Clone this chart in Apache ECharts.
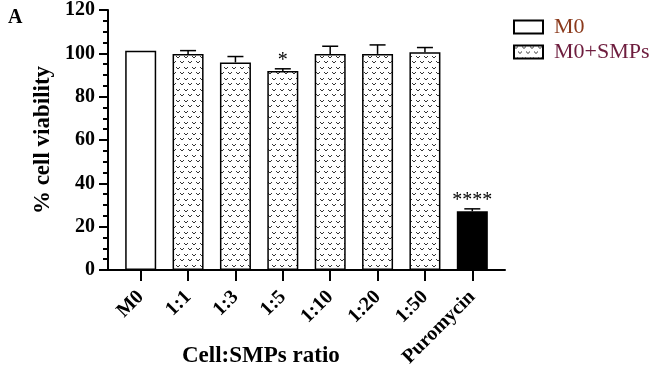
<!DOCTYPE html>
<html>
<head>
<meta charset="utf-8">
<script src="https://cdn.jsdelivr.net/npm/echarts@6/dist/echarts.min.js"></script>
<style>
  html, body { margin: 0; padding: 0; background: #fff; }
  #main { width: 658px; height: 370px; }
</style>
</head>
<body>
<div id="main"></div>
<script>
// data
var categories = ['M0', '1:1', '1:3', '1:5', '1:10', '1:20', '1:50', 'Puromycin'];
var m0Values = [100, '-', '-', '-', '-', '-', '-', '-'];
var smpValues = ['-', 98.5, 94.7, 90.8, 98.5, 98.6, 99.4, '-'];
var puroValues = ['-', '-', '-', '-', '-', '-', '-', 26.8];
var meanValues = [100, 98.5, 94.7, 90.8, 98.5, 98.6, 99.4, 26.8];
var sdValues = [0, 1.6, 2.7, 1.0, 3.6, 4.1, 2.1, 1.1];
var sigLabels = ['', '', '', '*', '', '', '', '****'];
var yTicks = [0, 20, 40, 60, 80, 100, 120];

var serif = '"Liberation Serif", "DejaVu Serif", serif';

// dotted "v" fill like the GraphPad pattern
function makePattern() {
    var c = document.createElement('canvas');
    c.width = 8; c.height = 11;
    var ctx = c.getContext('2d');
    ctx.fillStyle = '#fff';
    ctx.fillRect(0, 0, 8, 11);
    ctx.fillStyle = '#333';
    function v(x, y) {
        ctx.fillRect(x, y, 1, 1);
        ctx.fillRect(x + 3, y, 1, 1);
        ctx.fillRect(x + 1, y + 1, 2, 1);
    }
    v(0, 1);
    v(4, 6);
    return c;
}
var pattern = {image: makePattern(), repeat: 'repeat'};

var chartDom = document.getElementById('main');
var myChart = echarts.init(chartDom);
var option;

option = {
    backgroundColor: '#fff',
    animation: false,
    grid: [
        {left: 117, right: 162, top: 7, bottom: 100},
        {left: 108, right: 153, top: 7, bottom: 100}
    ],
    legend: {
        left: 508,
        top: 11,
        orient: 'vertical',
        itemWidth: 29,
        itemHeight: 13,
        itemGap: 3,
        icon: 'rect',
        textStyle: {fontFamily: serif, fontSize: 22, lineHeight: 22, padding: [0, 0, 0, 6]},
        data: [
            {name: 'M0', textStyle: {color: '#8b3a1c'}},
            {name: 'M0+SMPs', textStyle: {color: '#6e1d3e'}}
        ]
    },
    graphic: [
        {type: 'text', left: 8, top: 8,
         style: {text: 'A', font: 'bold 20px ' + serif, fill: '#000'}},
        {type: 'text', left: 182, top: 345,
         style: {text: 'Cell:SMPs ratio', font: 'bold 23px ' + serif, fill: '#000'}}
    ],
    xAxis: [
        {
            type: 'category', gridIndex: 0, data: categories,
            axisLine: {show: false},
            axisTick: {show: true, alignWithLabel: true, length: 11,
                       lineStyle: {color: '#000', width: 2}},
            axisLabel: {rotate: 45, margin: 24, color: '#000', fontFamily: serif,
                        fontWeight: 'bold', fontSize: 20, interval: 0}
        },
        {
            type: 'value', gridIndex: 1, min: 0, max: 1,
            axisLine: {show: true, lineStyle: {color: '#000', width: 2}},
            axisTick: {show: false}, axisLabel: {show: false}, splitLine: {show: false}
        }
    ],
    yAxis: [
        {
            type: 'value', gridIndex: 0, min: 0, max: 120, show: false
        },
        {
            type: 'value', gridIndex: 1, min: yTicks[0], max: yTicks[yTicks.length - 1], interval: 20,
            name: '% cell viability', nameLocation: 'middle', nameGap: 52,
            nameTextStyle: {fontFamily: serif, fontWeight: 'bold', fontSize: 23, color: '#000'},
            axisLine: {show: true, lineStyle: {color: '#000', width: 2}},
            axisTick: {show: true, length: 9, lineStyle: {color: '#000', width: 2}},
            minorTick: {show: true, splitNumber: 4, length: 5, lineStyle: {color: '#000', width: 2}},
            axisLabel: {margin: 13, color: '#000', fontFamily: serif, fontWeight: 'bold', fontSize: 20},
            splitLine: {show: false}
        }
    ],
    series: [
        {
            name: 'M0', type: 'bar', xAxisIndex: 0, yAxisIndex: 0,
            data: m0Values, barWidth: 31, barGap: '-100%',
            itemStyle: {color: '#fff', borderColor: '#000', borderWidth: 1.5}
        },
        {
            name: 'M0+SMPs', type: 'bar', xAxisIndex: 0, yAxisIndex: 0,
            data: smpValues, barWidth: 31, barGap: '-100%',
            itemStyle: {color: pattern, borderColor: '#000', borderWidth: 1.5}
        },
        {
            name: 'Puromycin', type: 'bar', xAxisIndex: 0, yAxisIndex: 0,
            data: puroValues, barWidth: 31, barGap: '-100%',
            itemStyle: {color: '#000', borderColor: '#000', borderWidth: 1.5}
        },
        {
            name: 'SD', type: 'custom', xAxisIndex: 0, yAxisIndex: 0,
            data: meanValues.map(function (m, i) { return [i, m, sdValues[i]]; }),
            z: 5,
            renderItem: function (params, api) {
                var i = api.value(0);
                var mean = api.value(1);
                var sd = api.value(2);
                var base = api.coord([i, mean]);
                var top = api.coord([i, mean + sd]);
                var children = [];
                if (sd > 0) {
                    children.push({type: 'line', shape: {x1: base[0], y1: base[1], x2: top[0], y2: top[1]},
                                   style: {stroke: '#000', lineWidth: 1.5}});
                    children.push({type: 'line', shape: {x1: top[0] - 8, y1: top[1], x2: top[0] + 8, y2: top[1]},
                                   style: {stroke: '#000', lineWidth: 1.5}});
                }
                if (sigLabels[i]) {
                    children.push({type: 'text', x: top[0], y: top[1] + 2,
                                   style: {text: sigLabels[i], font: '20px ' + serif, fill: '#000',
                                           align: 'center', verticalAlign: 'bottom'}});
                }
                return {type: 'group', children: children};
            }
        }
    ]
};

option && myChart.setOption(option);
</script>
</body>
</html>
